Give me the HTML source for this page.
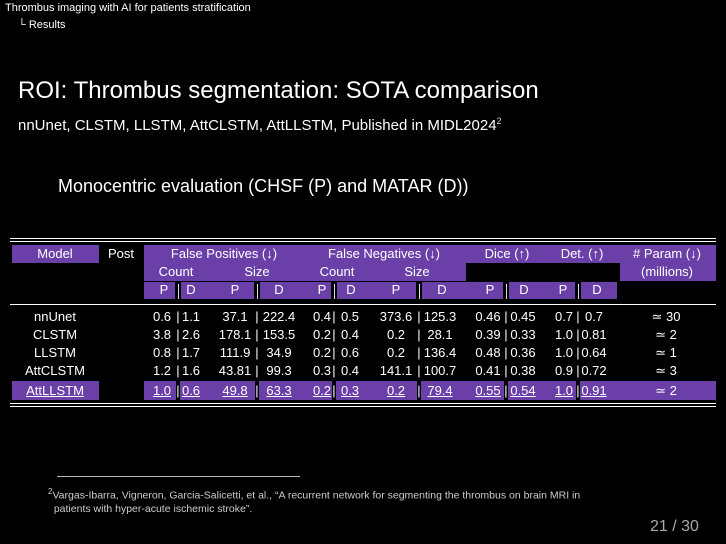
<!DOCTYPE html>
<html><head><meta charset="utf-8"><style>
body{margin:0;width:726px;height:544px;background:#000;overflow:hidden;position:relative;font-family:"Liberation Sans","DejaVu Sans",sans-serif;color:#fff}
.a{position:absolute;white-space:nowrap}
.p{position:absolute;background:#6a40a8}
.c{position:absolute;transform:translateX(-50%);white-space:nowrap;font-size:13px}
.r{position:absolute;background:#fff}
u{text-decoration:underline}
</style></head><body>
<div class="a" style="left:5px;top:2px;font-size:11px">Thrombus imaging with AI for patients stratification</div>
<div class="a" style="left:18px;top:19px;font-size:11px">└ Results</div>
<div class="a" style="left:18px;top:77px;font-size:24px">ROI: Thrombus segmentation: SOTA comparison</div>
<div class="a" style="left:18px;top:116px;font-size:15px">nnUnet, CLSTM, LLSTM, AttCLSTM, AttLLSTM, Published in MIDL2024<sup style="font-size:9px;color:#ccc">2</sup></div>
<div class="a" style="left:58px;top:176px;font-size:18px">Monocentric evaluation (CHSF (P) and MATAR (D))</div>

<div>
<div class="r" style="left:10px;top:238px;width:706px;height:1px"></div>
<div class="r" style="left:10px;top:241px;width:706px;height:1px"></div>
<div class="p" style="left:12px;top:245px;width:87px;height:18px"></div>
<div class="p" style="left:144px;top:245px;width:572px;height:18px"></div>
<div class="p" style="left:144px;top:263px;width:322px;height:18px"></div>
<div class="p" style="left:620px;top:263px;width:96px;height:18px"></div>
<div class="p" style="left:144px;top:282px;width:473px;height:17px"></div>
<div id="seps"></div>
<div class="r" style="left:10px;top:304px;width:706px;height:1px"></div>
<div class="p" style="left:12px;top:381px;width:87px;height:19px"></div>
<div class="p" style="left:144px;top:381px;width:572px;height:19px"></div>
<div class="r" style="left:10px;top:403px;width:706px;height:1px"></div>
<div class="r" style="left:10px;top:406px;width:706px;height:1px"></div>
<div id="cells"></div>
</div>

<div class="r" style="left:57px;top:476px;width:243px;height:1px;background:#bbb"></div>
<div class="a" style="left:48px;top:485px;font-size:10.5px;color:#ccc;line-height:13px"><sup style="font-size:8px">2</sup>Vargas-Ibarra, Vigneron, Garcia-Salicetti, et al., “A recurrent network for segmenting the thrombus on brain MRI in<br>&nbsp;&nbsp;patients with hyper-acute ischemic stroke”.</div>
<div class="a" style="left:650px;top:518px;font-size:16px;color:#aaa">21 / 30</div>

<script>
const models=["nnUnet","CLSTM","LLSTM","AttCLSTM","AttLLSTM"];
const fpCount=[["0.6","1.1"],["3.8","2.6"],["0.8","1.7"],["1.2","1.6"],["1.0","0.6"]];
const fpSize=[["37.1","222.4"],["178.1","153.5"],["111.9","34.9"],["43.81","99.3"],["49.8","63.3"]];
const fnCount=[["0.4","0.5"],["0.2","0.4"],["0.2","0.6"],["0.3","0.4"],["0.2","0.3"]];
const fnSize=[["373.6","125.3"],["0.2","28.1"],["0.2","136.4"],["141.1","100.7"],["0.2","79.4"]];
const dice=[["0.46","0.45"],["0.39","0.33"],["0.48","0.36"],["0.41","0.38"],["0.55","0.54"]];
const det=[["0.7","0.7"],["1.0","0.81"],["1.0","0.64"],["0.9","0.72"],["1.0","0.91"]];
const params=["≃ 30","≃ 2","≃ 1","≃ 3","≃ 2"];
const groups=[fpCount,fpSize,fnCount,fnSize,dice,det];
const gP=[162,235,322,396,488,564],gS=[178,257,334,419,506,578],gD=[191,279,350,440,523,594];
const hP=[164,235,322,396,490,563],hD=[191,279,351,442,524,597];
const cells=document.getElementById('cells');
function txt(x,y,s,name){const d=document.createElement('div');d.className='c';d.style.left=x+'px';d.style.top=y+'px';d.innerHTML=s;


cells.appendChild(d);return d;}
txt(55,246,'Model','header-model');
txt(121,246,'Post','header-post');
txt(224,246,'False Positives (↓)','header-false-positives');
txt(384,246,'False Negatives (↓)','header-false-negatives');
txt(507,246,'Dice (↑)','header-dice');
txt(582,246,'Det. (↑)','header-det');
txt(667,246,'# Param (↓)','header-param');
txt(176,264,'Count','header-fp-count');txt(257,264,'Size','header-fp-size');
txt(337,264,'Count','header-fn-count');txt(417,264,'Size','header-fn-size');
txt(667,264,'(millions)','header-millions');
const seps=document.getElementById('seps');
for(let g=0;g<6;g++){
 const b=document.createElement('div');b.style.cssText='position:absolute;background:#000;top:282px;height:17px;width:6px;left:'+(gS[g]-3)+'px';
 
 
 seps.appendChild(b);
 const l=document.createElement('div');l.style.cssText='position:absolute;background:#ddd;top:284px;height:15px;width:1px;left:'+gS[g]+'px';
 
 
 seps.appendChild(l);
 txt(hP[g],282,'P','header-p');txt(hD[g],282,'D','header-d');
}
for(let i=0;i<models.length;i++){
 const hl=i===models.length-1,y=309+i*18+(hl?2:0);
 const w=s=>hl?'<u>'+s+'</u>':s;
 txt(55,y,w(models[i]),'model-'+models[i].toLowerCase());
 for(let g=0;g<6;g++){
  txt(gP[g],y,w(groups[g][i][0]),'value-p');
  txt(gS[g],y,'|','value-separator');
  txt(gD[g],y,w(groups[g][i][1]),'value-d');
  if(hl){const b=document.createElement('div');b.style.cssText='position:absolute;background:#000;top:381px;height:19px;width:4px;left:'+(gS[g]-2)+'px';
  
  
  cells.insertBefore(b,cells.firstChild);}
 }
 txt(666,y,params[i],'param-value');
}
</script>
</body></html>
